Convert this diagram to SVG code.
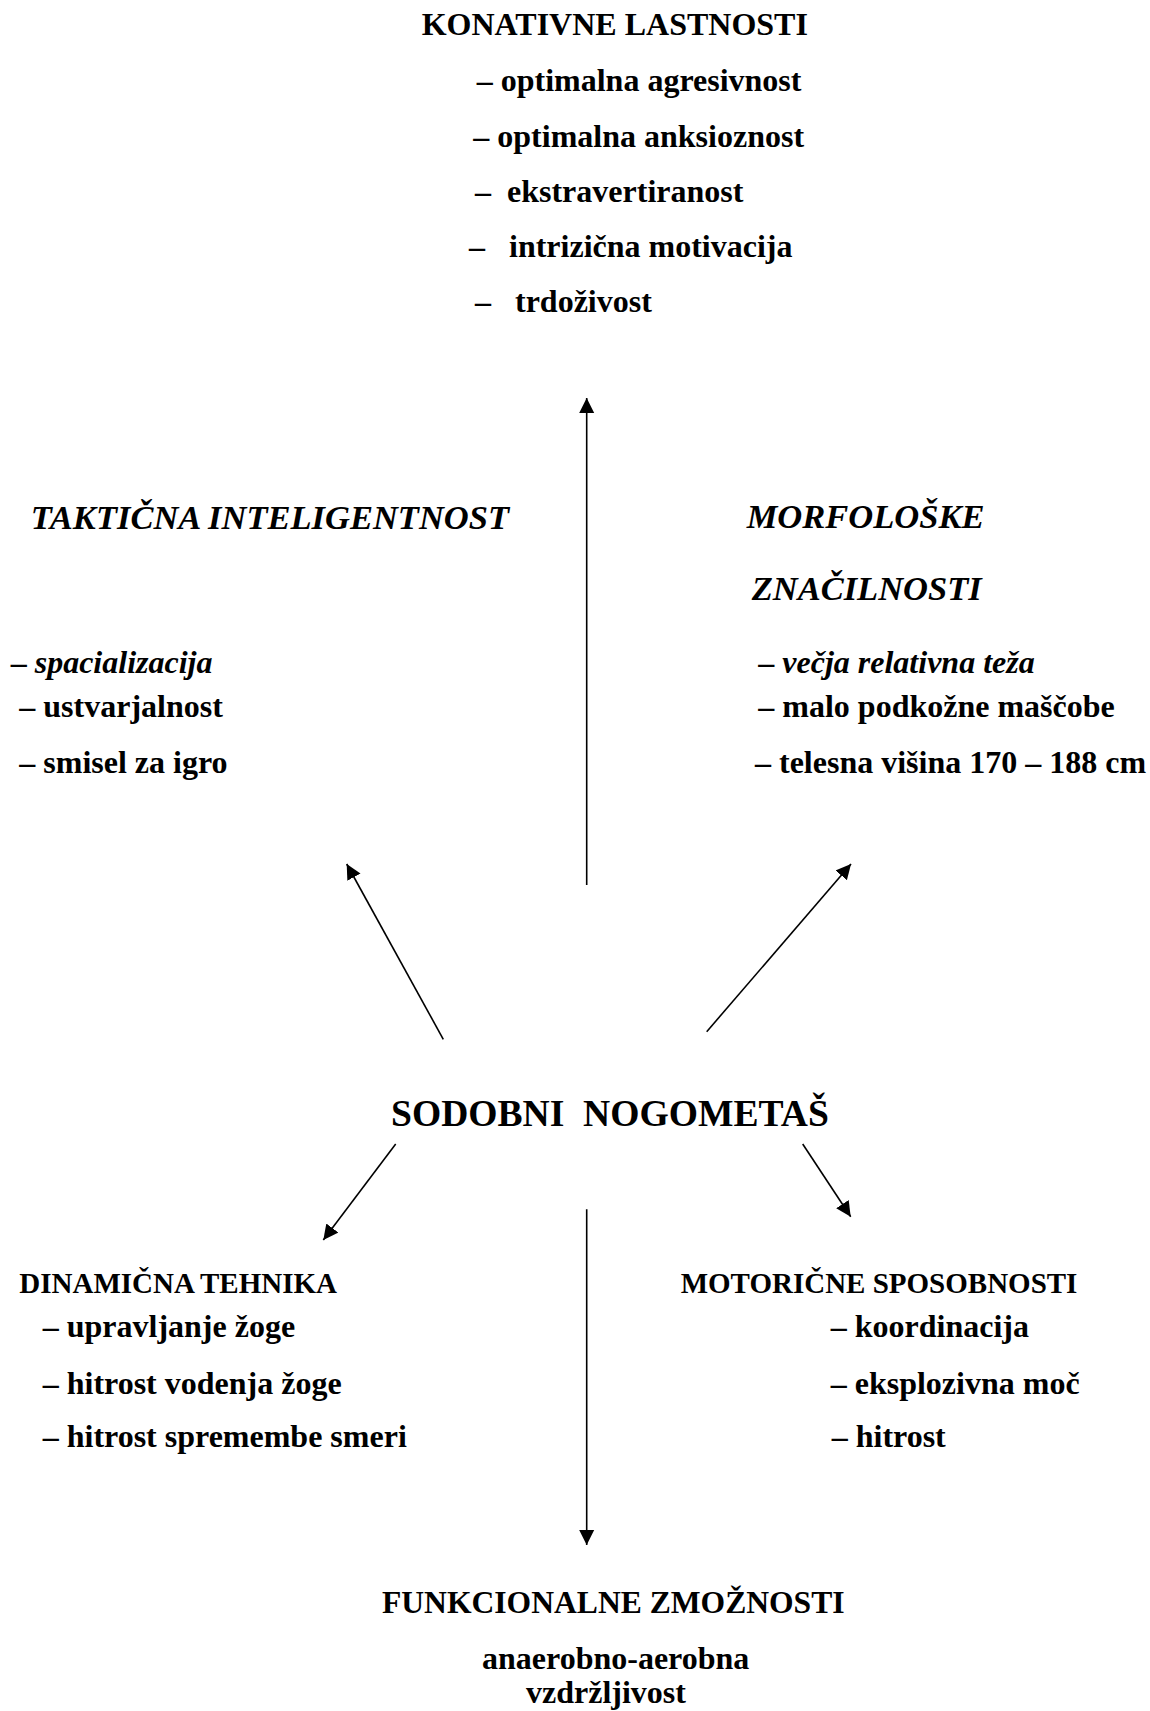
<svg xmlns="http://www.w3.org/2000/svg" width="1150" height="1711" viewBox="0 0 1150 1711">
<style>
text{font-family:"Liberation Serif","Times New Roman",serif;font-weight:bold;fill:#000}
.h{font-size:32px}
.hi{font-size:34.5px;font-style:italic}
.hs{font-size:29px}
.c{font-size:37.6px}
.f{font-size:31.6px}
.i{font-size:32px}
.it{font-style:italic}
.con line{stroke:#000;stroke-width:1.6;fill:none;marker-end:url(#ah)}
</style>
<defs>
<marker id="ah" markerUnits="userSpaceOnUse" markerWidth="16" markerHeight="16" viewBox="0 0 16 16" refX="15" refY="8" orient="auto">
<path d="M0,0.5 L15,8 L0,15.5 z" fill="#000"/>
</marker>
</defs>
<rect width="1150" height="1711" fill="#fff"/>
<g id="konativne">
<text class="h" x="421.7" y="35">KONATIVNE LASTNOSTI</text>
<text class="i" x="476.7" y="90.7">– optimalna agresivnost</text>
<text class="i" x="473.3" y="146.7">– optimalna anksioznost</text>
<text class="i" x="475" y="201.7" xml:space="preserve">–  ekstravertiranost</text>
<text class="i" x="469" y="256.7" xml:space="preserve">–   intrizična motivacija</text>
<text class="i" x="475" y="311.7" xml:space="preserve">–   trdoživost</text>
</g>
<g id="takticna">
<text class="hi" x="30.7" y="529.3">TAKTIČNA INTELIGENTNOST</text>
<text class="i" x="10.7" y="672.7">– <tspan class="it">spacializacija</tspan></text>
<text class="i" x="19.3" y="717.3">– ustvarjalnost</text>
<text class="i" x="19.3" y="772.7">– smisel za igro</text>
</g>
<g id="morfoloske">
<text class="hi" x="746.7" y="528.3">MORFOLOŠKE</text>
<text class="hi" x="751.7" y="600">ZNAČILNOSTI</text>
<text class="i" x="758.3" y="672.7">– <tspan class="it">večja relativna teža</tspan></text>
<text class="i" x="758.3" y="717.3">– malo podkožne maščobe</text>
<text class="i" x="755" y="772.7">– telesna višina 170 – 188 cm</text>
</g>
<g id="sodobni">
<text class="c" x="391" y="1126" xml:space="preserve">SODOBNI  NOGOMETAŠ</text>
</g>
<g id="dinamicna">
<text class="hs" x="19.3" y="1293">DINAMIČNA TEHNIKA</text>
<text class="i" x="42.7" y="1337.3">– upravljanje žoge</text>
<text class="i" x="42.7" y="1393.5">– hitrost vodenja žoge</text>
<text class="i" x="42.7" y="1447">– hitrost spremembe smeri</text>
</g>
<g id="motoricne">
<text class="hs" x="680.7" y="1293">MOTORIČNE SPOSOBNOSTI</text>
<text class="i" x="830.7" y="1337.3">– koordinacija</text>
<text class="i" x="830.7" y="1393.5">– eksplozivna moč</text>
<text class="i" x="831.7" y="1447">– hitrost</text>
</g>
<g id="funkcionalne">
<text class="f" x="382" y="1612.7">FUNKCIONALNE ZMOŽNOSTI</text>
<text class="i" x="482" y="1669">anaerobno-aerobna</text>
<text class="i" x="606" y="1702.5" text-anchor="middle">vzdržljivost</text>
</g>
<g id="connectors" class="con">
<line x1="586.7" y1="885" x2="586.7" y2="398"/>
<line x1="443.3" y1="1039.3" x2="346.7" y2="864"/>
<line x1="706.7" y1="1031.7" x2="851" y2="864"/>
<line x1="395.7" y1="1144" x2="323.3" y2="1240"/>
<line x1="802.7" y1="1144" x2="850.7" y2="1216.7"/>
<line x1="586.7" y1="1209.3" x2="586.7" y2="1545"/>
</g>
</svg>
